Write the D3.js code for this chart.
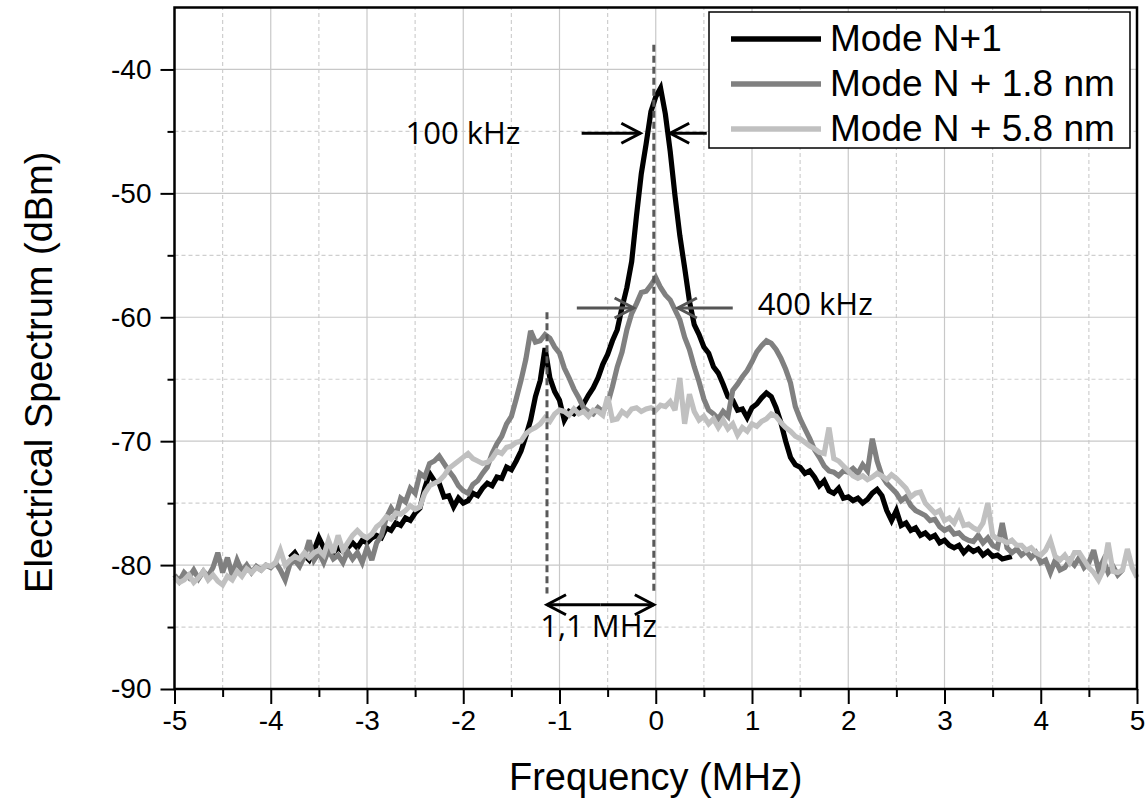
<!DOCTYPE html>
<html>
<head>
<meta charset="utf-8">
<script src="https://cdn.jsdelivr.net/npm/d3@7"></script>
<style>
  body { margin: 0; background: #fff; }
  svg { display: block; }
  .tick text { font-family: "Liberation Sans", Arial, sans-serif; }
</style>
</head>
<body>
<div id="chart"></div>
<script>
const step = 0.05;

const modeN1Start = -3.8;
const modeN1 = [
  -79.4, -79.0, -79.6, -79.2, -79.6, -78.8, -77.8, -78.6, -78.4, -79.0,
  -78.6, -78.9, -78.6, -78.2, -78.6, -78.0, -78.2, -77.8, -77.6, -77.8,
  -77.0, -77.2, -76.6, -76.8, -76.2, -76.4, -75.8, -75.4, -73.8, -72.6,
  -73.2, -73.4, -74.5, -74.4, -75.3, -74.6, -75.0, -74.8, -74.2, -74.4,
  -73.8, -73.4, -73.6, -72.9, -73.0, -72.1, -72.3, -71.6, -70.8, -69.6,
  -68.3, -66.4, -65.1, -62.5, -64.9, -66.0, -66.7, -68.3, -67.6, -67.8,
  -67.4, -67.0, -66.3, -65.7, -64.9, -63.8, -63.0, -61.9, -61.0, -59.2,
  -57.6, -55.5, -51.8, -48.4, -46.0, -43.4, -42.2, -41.5, -43.6, -46.6,
  -50.2, -53.4, -56.0, -58.7, -60.6, -61.4, -62.4, -62.9, -64.0, -64.5,
  -65.4, -66.4, -66.7, -67.5, -67.4, -68.1, -67.3, -67.0, -66.5, -66.1,
  -66.4, -67.3, -68.5, -70.0, -71.3, -71.9, -72.1, -72.6, -72.4, -72.9,
  -73.6, -73.2, -74.0, -74.2, -73.8, -74.6, -74.5, -74.8, -74.6, -75.0,
  -74.7, -74.2, -73.9, -74.4, -75.6, -76.4, -75.6, -76.8, -76.6, -77.2,
  -77.0, -77.6, -77.4, -77.8, -77.6, -78.2, -78.0, -78.4, -78.6, -78.4,
  -79.0, -78.6, -78.9, -78.7, -79.2, -78.9, -79.3, -79.2, -79.5, -79.4,
  -79.3
];

const modeN18Start = -5;
const modeN18 = [
  -80.8, -81.3, -80.6, -81.0, -80.4, -81.1, -80.5, -80.9, -80.2, -79.0,
  -80.6, -79.4, -80.8, -79.6, -80.5, -80.0, -80.6, -80.1, -80.4, -80.0,
  -80.2, -79.8, -80.4, -81.2, -79.9, -79.6, -80.1, -79.3, -78.0, -79.6,
  -79.0, -79.8, -78.8, -79.5, -79.2, -79.8, -78.9, -79.5, -79.0, -79.8,
  -78.6, -79.6, -78.2, -77.6, -76.2, -75.4, -76.0, -74.6, -74.9, -73.8,
  -74.2, -72.6, -72.9, -71.8, -71.6, -71.2, -71.8, -72.4, -72.9, -73.6,
  -74.0, -74.2, -73.5, -73.2, -72.6, -72.1, -71.0, -70.2, -69.6, -68.6,
  -68.0, -66.6, -65.1, -63.4, -61.1, -62.0, -61.9, -61.4, -61.7, -62.4,
  -62.9, -64.1, -64.9, -65.8, -66.5, -67.3, -67.6, -67.8, -67.3, -67.6,
  -67.0, -65.6, -64.0, -62.8, -61.0, -59.7, -58.9, -58.0, -57.9, -57.4,
  -56.8, -57.6, -58.2, -58.6, -59.4, -60.2, -61.6, -62.6, -64.0, -65.2,
  -66.6, -67.5, -67.8, -68.2, -67.6, -68.0, -65.9, -65.4, -64.8, -64.3,
  -63.6, -62.8, -62.3, -61.9, -62.1, -62.6, -63.3, -64.2, -65.3, -67.2,
  -68.2, -69.0, -69.8, -70.7, -71.3, -72.0, -72.4, -72.5, -72.8, -72.4,
  -72.5, -72.2, -72.6, -71.9, -72.4, -69.8, -71.6, -72.8, -73.4, -73.8,
  -74.2, -74.8, -74.5, -75.2, -75.6, -75.8, -76.0, -76.4, -76.3, -76.9,
  -77.2, -77.0, -77.5, -77.4, -77.8, -78.0, -78.1, -77.6, -78.2, -77.8,
  -78.4, -78.6, -76.6, -78.6, -79.0, -78.7, -79.2, -78.9, -79.4, -79.0,
  -79.8, -79.6, -80.6, -79.6, -80.4, -80.2, -79.6, -80.0, -79.4, -80.2,
  -79.8, -78.8, -80.4, -79.6, -80.6, -80.1, -80.8, -80.4
];

const modeN58Start = -5;
const modeN58 = [
  -81.0, -81.4, -81.2, -80.8, -81.4, -81.0, -80.5, -81.2, -80.8, -81.3,
  -81.6, -80.9, -81.2, -80.5, -80.9, -80.3, -80.6, -80.2, -80.4, -80.0,
  -80.1, -79.8, -78.8, -80.0, -79.6, -79.3, -79.5, -79.0, -79.4, -79.0,
  -78.8, -79.2, -78.0, -79.0, -77.6, -78.8, -78.2, -77.6, -77.2, -77.6,
  -77.8, -77.5, -76.9, -76.6, -76.1, -76.3, -75.8, -75.9, -75.6, -75.2,
  -75.5, -75.3, -74.2, -73.6, -73.4, -73.2, -72.8, -72.2, -71.9, -71.6,
  -71.3, -71.0, -71.4, -71.6, -71.8, -71.7, -71.4, -70.8, -71.0, -70.5,
  -70.4, -70.1, -70.0, -69.4, -69.1, -68.9, -68.6, -68.1, -68.4, -67.8,
  -67.5, -67.6, -67.9, -67.4, -67.8, -67.6, -68.0, -67.5, -67.6, -67.9,
  -66.4, -68.3, -68.2, -67.6, -67.9, -67.4, -67.3, -67.6, -67.4, -67.3,
  -67.5, -67.1, -67.2, -66.8, -67.5, -64.9, -68.6, -66.2, -67.6, -68.3,
  -68.0, -68.6, -68.2, -68.9, -68.3, -69.0, -68.6, -69.5, -68.9, -69.2,
  -68.6, -68.8, -68.4, -68.2, -67.8, -68.0, -68.5, -68.9, -69.2, -69.6,
  -69.8, -70.1, -70.4, -70.6, -70.9, -71.0, -68.9, -71.4, -71.6, -72.0,
  -72.4, -72.8, -73.0, -72.8, -73.1, -72.9, -72.6, -72.8, -73.1, -72.7,
  -73.0, -73.4, -73.8, -74.5, -74.2, -74.1, -75.0, -75.4, -75.8, -75.6,
  -76.4, -76.2, -76.6, -75.8, -76.8, -76.7, -77.0, -77.2, -76.6, -75.0,
  -77.6, -77.9, -78.0, -78.2, -78.0, -78.4, -78.4, -78.8, -78.6, -79.0,
  -79.2, -78.8, -78.0, -79.3, -79.6, -79.2, -79.8, -79.0, -79.0, -79.6,
  -80.2, -80.6, -81.2, -80.4, -78.2, -80.5, -80.6, -80.4, -78.7, -80.2,
  -81.0
];

const seriesNames = ["Mode N+1", "Mode N + 1.8 nm", "Mode N + 5.8 nm"];
const seriesColors = ["#000000", "#808080", "#c0c0c0"];

const xMajor = [-5, -4, -3, -2, -1, 0, 1, 2, 3, 4, 5];
const xMinor = [-4.5, -3.5, -2.5, -1.5, -0.5, 0.5, 1.5, 2.5, 3.5, 4.5];
const yMajor = [-90, -80, -70, -60, -50, -40];
const yMinor = [-85, -75, -65, -55, -45];

// annotation marks, in data units (MHz, dBm)
const markerLines = [[-0.02, -38, -82.3], [-1.13, -59.6, -82.3]];   // x, top, bottom
const fwhmNarrow = { y: -45.15, left: [-0.77, -0.16], right: [0.53, 0.15], label: "100 kHz", lx: -2.6, ly: -46.0 };
const fwhmWide = { y: -59.25, left: [-0.82, -0.23], right: [0.8, 0.23], label: "400 kHz", lx: 1.06, ly: -59.8 };
const spacing = { y: -83.2, from: -1.13, to: -0.02, label: "1,1 MHz", lx: -1.2, ly: -85.8 };

const width = 1147, height = 803;
const svg = d3.select("#chart").append("svg")
    .attr("width", width)
    .attr("height", height);

const x = d3.scaleLinear().domain([-5, 5]).range([174.5, 1137]);
const y = d3.scaleLinear().domain([-90, -35]).range([689, 7.5]);

const toPoints = (start, vals) => vals.map((v, i) => [start + i * step, v]);
const series = [
  toPoints(modeN1Start, modeN1),
  toPoints(modeN18Start, modeN18),
  toPoints(modeN58Start, modeN58)
];

// grid
const grid = svg.append("g");
grid.selectAll(".vmaj").data(xMajor.slice(1, -1)).join("line")
    .attr("x1", d => x(d)).attr("x2", d => x(d))
    .attr("y1", y(-90)).attr("y2", y(-35))
    .attr("stroke", "#c8c8c8").attr("stroke-width", 1.2);
grid.selectAll(".vmin").data(xMinor).join("line")
    .attr("x1", d => x(d)).attr("x2", d => x(d))
    .attr("y1", y(-90)).attr("y2", y(-35))
    .attr("stroke", "#cfcfcf").attr("stroke-width", 1.2).attr("stroke-dasharray", "4,3");
grid.selectAll(".hmaj").data(yMajor.slice(1)).join("line")
    .attr("y1", d => y(d)).attr("y2", d => y(d))
    .attr("x1", x(-5)).attr("x2", x(5))
    .attr("stroke", "#c8c8c8").attr("stroke-width", 1.2);
grid.selectAll(".hmin").data(yMinor).join("line")
    .attr("y1", d => y(d)).attr("y2", d => y(d))
    .attr("x1", x(-5)).attr("x2", x(5))
    .attr("stroke", "#cfcfcf").attr("stroke-width", 1.2).attr("stroke-dasharray", "4,3");

// spectra
const line = d3.line().x(d => x(d[0])).y(d => y(d[1]));
svg.append("g").selectAll("path").data(series).join("path")
    .attr("d", line)
    .attr("fill", "none")
    .attr("stroke", (d, i) => seriesColors[i])
    .attr("stroke-width", 5.2)
    .attr("stroke-linejoin", "miter")
    .attr("stroke-miterlimit", 3);

// dashed marker lines
svg.append("g").selectAll("line").data(markerLines).join("line")
    .attr("x1", d => x(d[0])).attr("x2", d => x(d[0]))
    .attr("y1", d => y(d[1])).attr("y2", d => y(d[2]))
    .attr("stroke", "#595959").attr("stroke-width", 3)
    .attr("stroke-dasharray", "7,4");

// arrows with open heads
function arrow(g, x0, x1, yv, color) {
  const px0 = x(x0), px1 = x(x1), py = y(yv);
  const dir = px1 > px0 ? 1 : -1;
  g.append("line")
    .attr("x1", px0).attr("x2", px1).attr("y1", py).attr("y2", py)
    .attr("stroke", color).attr("stroke-width", 3);
  g.append("path")
    .attr("d", `M${px1 - dir * 19},${py - 10}L${px1},${py}L${px1 - dir * 19},${py + 10}`)
    .attr("fill", "none").attr("stroke", color).attr("stroke-width", 3);
}
const ann = svg.append("g");
arrow(ann, fwhmNarrow.left[0], fwhmNarrow.left[1], fwhmNarrow.y, "#000");
arrow(ann, fwhmNarrow.right[0], fwhmNarrow.right[1], fwhmNarrow.y, "#000");
arrow(ann, fwhmWide.left[0], fwhmWide.left[1], fwhmWide.y, "#555");
arrow(ann, fwhmWide.right[0], fwhmWide.right[1], fwhmWide.y, "#555");
arrow(ann, (spacing.from + spacing.to) / 2, spacing.to, spacing.y, "#000");
arrow(ann, (spacing.from + spacing.to) / 2, spacing.from, spacing.y, "#000");

ann.selectAll("text").data([fwhmNarrow, fwhmWide, spacing]).join("text")
    .attr("x", d => x(d.lx))
    .attr("y", d => y(d.ly))
    .attr("font-family", "'Open Sans', sans-serif")
    .attr("font-size", 31)
    .attr("fill", "#000")
    .text(d => d.label);

// frame
svg.append("rect")
    .attr("x", x(-5)).attr("y", y(-35))
    .attr("width", x(5) - x(-5)).attr("height", y(-90) - y(-35))
    .attr("fill", "none").attr("stroke", "#000").attr("stroke-width", 2.5);

// axes
const fmt = d => String(d);
svg.append("g").attr("transform", `translate(${x(-5)},0)`)
    .call(d3.axisLeft(y).tickValues(yMajor).tickSize(14).tickPadding(9).tickFormat(fmt));
svg.append("g").attr("transform", `translate(${x(-5)},0)`)
    .call(d3.axisLeft(y).tickValues(yMinor).tickSize(7).tickFormat(""));
svg.append("g").attr("transform", `translate(0,${y(-90)})`)
    .call(d3.axisBottom(x).tickValues(xMajor).tickSize(15).tickPadding(6).tickFormat(fmt));
svg.append("g").attr("transform", `translate(0,${y(-90)})`)
    .call(d3.axisBottom(x).tickValues(xMinor).tickSize(8).tickFormat(""));
svg.selectAll(".domain").remove();
svg.selectAll(".tick line").attr("stroke", "#000").attr("stroke-width", 2);
svg.selectAll(".tick text").attr("font-size", 28).attr("fill", "#000");

// axis titles
svg.append("text")
    .attr("transform", `translate(52,${(y(-90) + y(-35)) / 2 + 24}) rotate(-90)`)
    .attr("text-anchor", "middle")
    .attr("font-family", "'Liberation Sans', Arial, sans-serif")
    .attr("font-size", 38)
    .text("Electrical Spectrum (dBm)");
svg.append("text")
    .attr("x", (x(-5) + x(5)) / 2)
    .attr("y", 790)
    .attr("text-anchor", "middle")
    .attr("font-family", "'Liberation Sans', Arial, sans-serif")
    .attr("font-size", 38)
    .text("Frequency (MHz)");

// legend
const legend = svg.append("g").attr("transform", "translate(709,12)");
legend.append("rect")
    .attr("width", 421).attr("height", 136)
    .attr("fill", "#fff").attr("stroke", "#000").attr("stroke-width", 1.5);
const item = legend.selectAll("g").data(seriesNames).join("g")
    .attr("transform", (d, i) => `translate(0,${27 + i * 45})`);
item.append("line")
    .attr("x1", 22).attr("x2", 112)
    .attr("stroke", (d, i) => seriesColors[i])
    .attr("stroke-width", 5.5);
item.append("text")
    .attr("x", 121).attr("y", 12)
    .attr("font-family", "'Liberation Sans', Arial, sans-serif")
    .attr("font-size", 37)
    .text(d => d);
</script>
</body>
</html>
